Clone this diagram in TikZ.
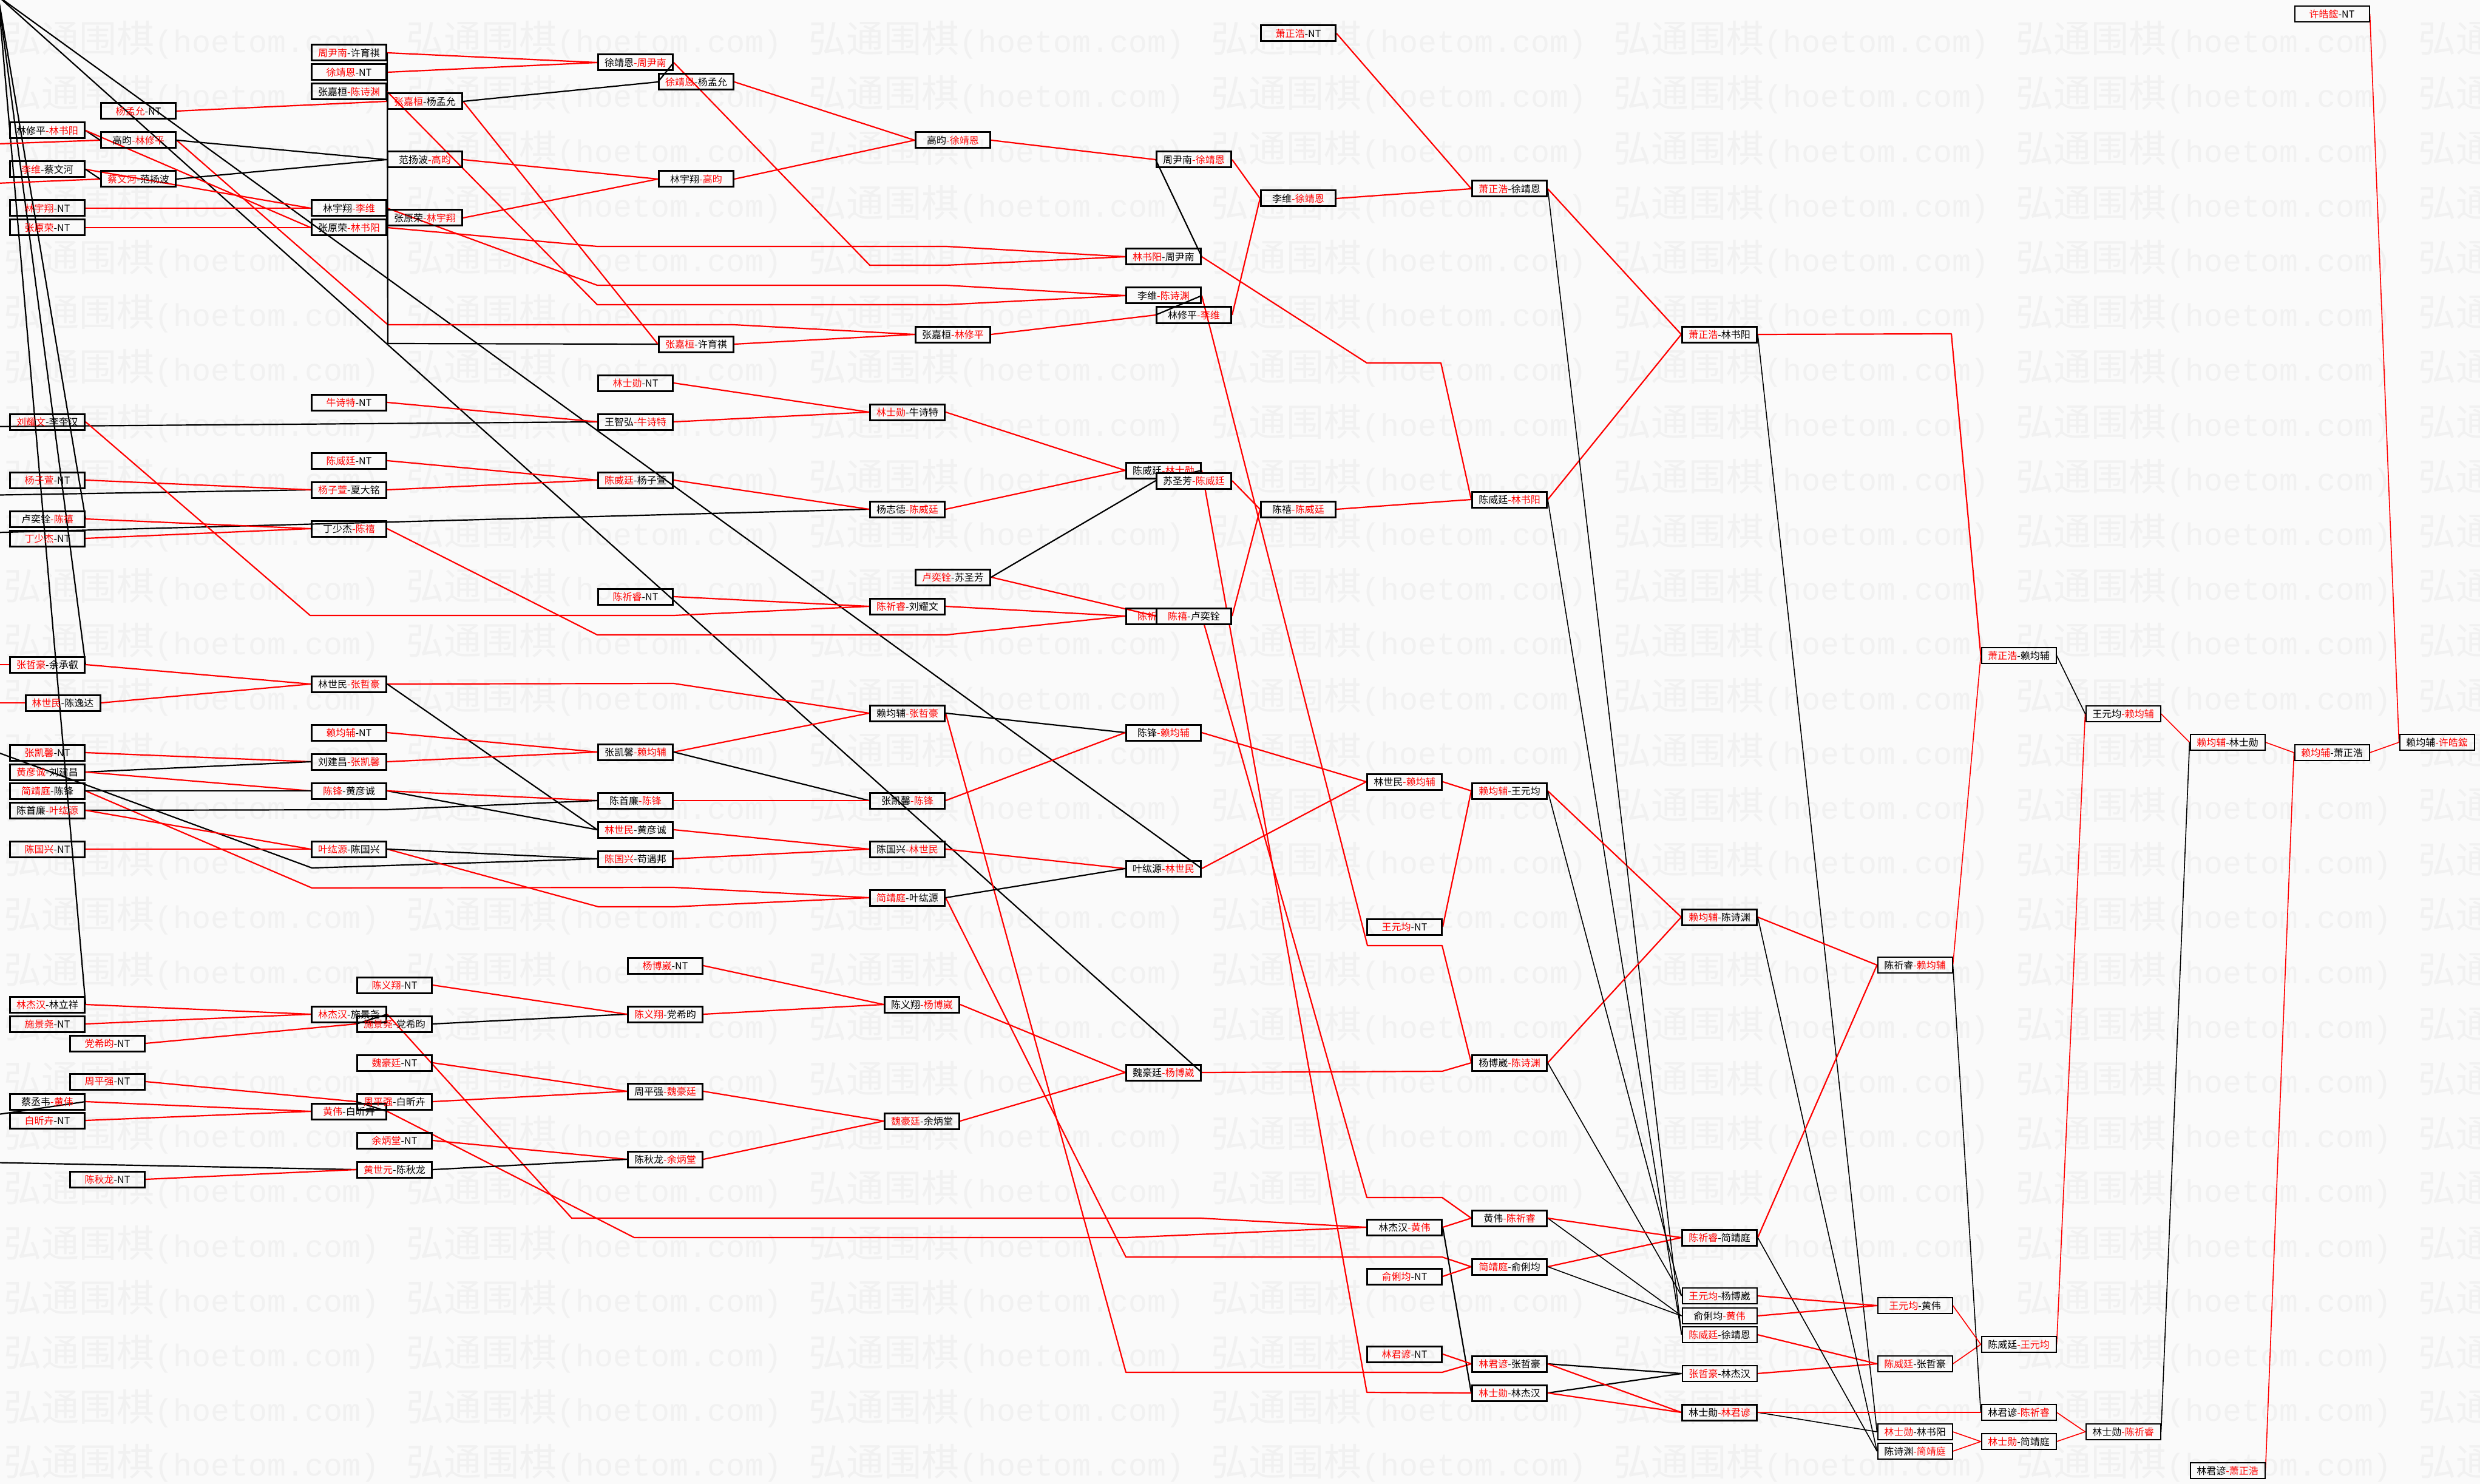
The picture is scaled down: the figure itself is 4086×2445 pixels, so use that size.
\documentclass[tikz,border=0pt]{standalone}
\usepackage{fontspec}
\newfontfamily\cjk{Noto Sans CJK SC}
\newfontfamily\wmmono{Liberation Mono}
\definecolor{bgc}{RGB}{250,250,250}
\definecolor{wmc}{RGB}{241,241,241}
\pgfdeclarelayer{bgl}
\pgfdeclarelayer{wml}
\pgfdeclarelayer{lnl}
\pgfsetlayers{bgl,wml,lnl,main}
\tikzset{
 bx/.style={draw=black, line width=1.5pt, minimum width=61.5pt, minimum height=13pt, inner sep=0pt, font=\cjk\fontsize{8}{8}\selectfont},
 tb/.style={bx, line width=1pt},
 fb/.style={bx, fill=bgc},
 lr/.style={draw=red, line width=1.1pt, line join=round},
 lk/.style={draw=black, line width=1.1pt, line join=round},
 tr/.style={draw=red, line width=0.8pt, line join=round},
 tk/.style={draw=black, line width=0.8pt, line join=round},
}
\newcommand\M[8][bx]{\node[#1] (#2) at (#3,#4) {\textcolor{#6}{#5}\textcolor{#8}{-#7}};}
\begin{document}
\begin{tikzpicture}[x=0.5pt,y=-0.5pt]
\clip (0,0) rectangle (4086,2445);
\begin{pgfonlayer}{bgl}
\fill[bgc] (0,0) rectangle (4086,2445);
\end{pgfonlayer}
\begin{pgfonlayer}{wml}
\foreach \r in {0,...,26} {
  \foreach \c in {0,...,6} {
    \node[anchor=west, inner sep=0pt, text=wmc] at ({6+663*\c},{66+90.2*\r}) {\cjk\fontsize{31}{31}\selectfont 弘通围棋\wmmono\fontsize{25.8}{25.8}\selectfont(hoetom.com)};
  }
}
\end{pgfonlayer}
% column A
\M{a1}{78}{215}{林修平}{black}{林书阳}{red}
\M{a2}{78}{279}{李维}{red}{蔡文河}{black}
\M{a3}{78}{343}{林宇翔}{red}{NT}{black}
\M{a4}{78}{375}{张原荣}{red}{NT}{black}
\M{a5}{78}{695}{刘耀文}{red}{李奎汉}{black}
\M{a6}{78}{791}{杨子萱}{red}{NT}{black}
\M{a7}{78}{855}{卢奕铨}{black}{陈禧}{red}
\M{a8}{78}{887}{丁少杰}{red}{NT}{black}
\M{a9}{78}{1095}{张哲豪}{red}{余承叡}{black}
\M{a10}{103.5}{1158}{林世民}{red}{陈逸达}{black}
\M{a11}{78}{1240}{张凯馨}{red}{NT}{black}
\M{a12}{78}{1272}{黄彦诚}{red}{刘建昌}{black}
\M{a13}{78}{1303}{简靖庭}{red}{陈锋}{black}
\M{a14}{78}{1335}{陈首廉}{black}{叶纮源}{red}
\M{a15}{78}{1399}{陈国兴}{red}{NT}{black}
\M{a16}{78}{1655}{林杰汉}{red}{林立祥}{black}
\M{a17}{78}{1687}{施景尧}{red}{NT}{black}
\M{a18}{78}{1815}{蔡丞韦}{black}{黄伟}{red}
\M{a19}{78}{1846}{白昕卉}{red}{NT}{black}
% column B
\M{b1}{228}{183}{杨孟允}{red}{NT}{black}
\M{b2}{228}{231}{高昀}{black}{林修平}{red}
\M{b3}{228}{295}{蔡文河}{red}{范扬波}{black}
\M{b4}{177}{1719}{党希昀}{red}{NT}{black}
\M{b5}{177}{1782}{周平强}{red}{NT}{black}
\M{b6}{177}{1943}{陈秋龙}{red}{NT}{black}
% column C
\M{c1}{575}{87}{周尹南}{red}{许育祺}{black}
\M{c2}{575}{119}{徐靖恩}{red}{NT}{black}
\M{c3}{575}{151}{张嘉桓}{black}{陈诗渊}{red}
\M{c4}{575}{343}{林宇翔}{black}{李维}{red}
\M{c5}{575}{375}{张原荣}{black}{林书阳}{red}
\M{c6}{575}{663}{牛诗特}{red}{NT}{black}
\M{c7}{575}{759}{陈威廷}{red}{NT}{black}
\M{c8}{575}{807}{杨子萱}{red}{夏大铭}{black}
\M{c9}{575}{871}{丁少杰}{black}{陈禧}{red}
\M{c10}{575}{1127}{林世民}{black}{张哲豪}{red}
\M{c11}{575}{1207}{赖均辅}{red}{NT}{black}
\M{c12}{575}{1255}{刘建昌}{black}{张凯馨}{red}
\M{c13}{575}{1303}{陈锋}{red}{黄彦诚}{black}
\M{c14}{575}{1399}{叶纮源}{red}{陈国兴}{black}
\M{c15}{575}{1671}{林杰汉}{red}{施景尧}{black}
\M{c16}{575}{1831}{黄伟}{red}{白昕卉}{black}
% column D
\M{d1}{700}{167}{张嘉桓}{red}{杨孟允}{black}
\M{d2}{700}{263}{范扬波}{black}{高昀}{red}
\M{d3}{700}{359}{张原荣}{black}{林宇翔}{red}
\M{d4}{650}{1623}{陈义翔}{red}{NT}{black}
\M{d5}{650}{1687}{施景尧}{red}{党希昀}{black}
\M{d6}{650}{1751}{魏豪廷}{red}{NT}{black}
\M{d7}{650}{1815}{周平强}{red}{白昕卉}{black}
\M{d8}{650}{1879}{余炳堂}{red}{NT}{black}
\M{d9}{650}{1927}{黄世元}{red}{陈秋龙}{black}
% column E
\M{e1}{1047}{103}{徐靖恩}{black}{周尹南}{red}
\M{e2}{1047}{631}{林士勋}{red}{NT}{black}
\M{e3}{1047}{695}{王智弘}{black}{牛诗特}{red}
\M{e4}{1047}{791}{陈威廷}{red}{杨子萱}{black}
\M{e5}{1047}{983}{陈祈睿}{red}{NT}{black}
\M{e6}{1047}{1239}{张凯馨}{black}{赖均辅}{red}
\M{e7}{1047}{1319}{陈首廉}{black}{陈锋}{red}
\M{e8}{1047}{1367}{林世民}{red}{黄彦诚}{black}
\M{e9}{1047}{1415}{陈国兴}{red}{苟遇邦}{black}
\M{e10}{1147}{135}{徐靖恩}{red}{杨孟允}{black}
\M{e11}{1147}{295}{林宇翔}{black}{高昀}{red}
\M{e12}{1147}{567}{张嘉桓}{red}{许育祺}{black}
\M{e13}{1096}{1591}{杨博崴}{red}{NT}{black}
\M{e14}{1096}{1671}{陈义翔}{red}{党希昀}{black}
\M{e15}{1096}{1798}{周平强}{black}{魏豪廷}{red}
\M{e16}{1096}{1910}{陈秋龙}{black}{余炳堂}{red}
% column F
\M{f1}{1570}{231}{高昀}{black}{徐靖恩}{red}
\M{f2}{1570}{551}{张嘉桓}{black}{林修平}{red}
\M{f3}{1570}{951}{卢奕铨}{red}{苏圣芳}{black}
\M{f4}{1495}{679}{林士勋}{red}{牛诗特}{black}
\M{f5}{1495}{839}{杨志德}{black}{陈威廷}{red}
\M{f6}{1495}{999}{陈祈睿}{red}{刘耀文}{black}
\M{f7}{1495}{1175}{赖均辅}{black}{张哲豪}{red}
\M{f8}{1495}{1319}{张凯馨}{black}{陈锋}{red}
\M{f9}{1495}{1399}{陈国兴}{black}{林世民}{red}
\M{f10}{1495}{1479}{简靖庭}{red}{叶纮源}{black}
\M{f11}{1519}{1655}{陈义翔}{black}{杨博崴}{red}
\M{f12}{1519}{1847}{魏豪廷}{red}{余炳堂}{black}
% column G
\M{g1}{1917}{423}{林书阳}{red}{周尹南}{black}
\M{g2}{1917}{487}{李维}{black}{陈诗渊}{red}
\M{g3}{1917}{775}{陈威廷}{black}{林士勋}{red}
\M{g4}{1917}{1015}{陈祈睿}{red}{陈禧}{black}
\M{g5}{1917}{1207}{陈锋}{black}{赖均辅}{red}
\M{g6}{1917}{1431}{叶纮源}{black}{林世民}{red}
\M{g7}{1917}{1767}{魏豪廷}{black}{杨博崴}{red}
\M{g8}{1967}{263}{周尹南}{black}{徐靖恩}{red}
\M{g9}{1967}{519}{林修平}{black}{李维}{red}
\M[fb]{g10}{1967}{792}{苏圣芳}{black}{陈威廷}{red}
\M[fb]{g11}{1967}{1015}{陈禧}{red}{卢奕铨}{black}
% column H
\M{h1}{2139}{55}{萧正浩}{red}{NT}{black}
\M{h2}{2139}{327}{李维}{black}{徐靖恩}{red}
\M{h3}{2139}{839}{陈禧}{black}{陈威廷}{red}
\M{h4}{2314}{1288}{林世民}{black}{赖均辅}{red}
\M{h5}{2314}{1527}{王元均}{red}{NT}{black}
\M{h6}{2314}{2022}{林杰汉}{black}{黄伟}{red}
\M{h7}{2314}{2103}{俞俐均}{red}{NT}{black}
\M{h8}{2314}{2231}{林君谚}{red}{NT}{black}
% column I
\M{i1}{2487}{311}{萧正浩}{red}{徐靖恩}{black}
\M{i2}{2487}{823}{陈威廷}{black}{林书阳}{red}
\M{i3}{2487}{1303}{赖均辅}{red}{王元均}{black}
\M{i4}{2487}{1751}{杨博崴}{black}{陈诗渊}{red}
\M{i5}{2487}{2007}{黄伟}{black}{陈祈睿}{red}
\M{i6}{2487}{2087}{简靖庭}{red}{俞俐均}{black}
\M{i7}{2487}{2247}{林君谚}{red}{张哲豪}{black}
\M{i8}{2487}{2295}{林士勋}{red}{林杰汉}{black}
% column J
\M{j1}{2833}{551}{萧正浩}{red}{林书阳}{black}
\M{j2}{2833}{1511}{赖均辅}{red}{陈诗渊}{black}
\M{j3}{2833}{2039}{陈祈睿}{red}{简靖庭}{black}
\M[tb]{j4}{2833}{2135}{王元均}{red}{杨博崴}{black}
\M[tb]{j5}{2833}{2168}{俞俐均}{black}{黄伟}{red}
\M[tb]{j6}{2833}{2199}{陈威廷}{red}{徐靖恩}{black}
\M[tb]{j7}{2833}{2263}{张哲豪}{red}{林杰汉}{black}
\M{j8}{2833}{2327}{林士勋}{black}{林君谚}{red}
% column K
\M[tb]{k1}{3155}{1590}{陈祈睿}{black}{赖均辅}{red}
\M[tb]{k2}{3155}{2151}{王元均}{red}{黄伟}{black}
\M[tb]{k3}{3155}{2247}{陈威廷}{red}{张哲豪}{black}
\M[tb]{k4}{3155}{2359}{林士勋}{red}{林书阳}{black}
\M[tb]{k5}{3155}{2391}{陈诗渊}{black}{简靖庭}{red}
% column L
\M[tb]{l1}{3326}{1080}{萧正浩}{red}{赖均辅}{black}
\M[tb]{l2}{3326}{2215}{陈威廷}{black}{王元均}{red}
\M[tb]{l3}{3326}{2327}{林君谚}{black}{陈祈睿}{red}
\M[tb]{l4}{3326}{2375}{林士勋}{red}{简靖庭}{black}
% columns M..P
\M[tb]{m1}{3498}{1176}{王元均}{black}{赖均辅}{red}
\M[tb]{m2}{3498}{2359}{林士勋}{black}{陈祈睿}{red}
\M[tb]{n1}{3670}{1223}{赖均辅}{red}{林士勋}{black}
\M[tb]{n2}{3670}{2423}{林君谚}{black}{萧正浩}{red}
\M[tb]{o1}{3842}{23}{许皓鋐}{red}{NT}{black}
\M[tb]{o2}{3842}{1240}{赖均辅}{red}{萧正浩}{black}
\M[tb]{p1}{4015}{1223}{赖均辅}{black}{许皓鋐}{red}

\begin{pgfonlayer}{lnl}
\coordinate (tl) at (-3,-6);
% corner lines
\draw[lk] (tl) -- (a7.east);
\draw[lk] (tl) -- (a9.east);
\draw[lk] (tl) -- (a16.east);
\draw[lk] (tl) -- (g7.east);
\draw[lk] (tl) -- (g6.east);
% off-canvas
\draw[lr] (-30,238) -- (b2.west);
\draw[lr] (-30,303) -- (b3.west);
\draw[lr] (-30,1095) -- (a9.west);
\draw[lr] (-30,1158) -- (a10.west);
\draw[lk] (-30,703) -- (e3.west);
\draw[lk] (-30,816) -- (c8.west);
\draw[lk] (-30,878) -- (f5.west);
\draw[lk] (-30,1230) -- (514,1430) -- (e9.west);
\draw[lk] (a18.east) -- (-30,1840);
\draw[lk] (-30,1915) -- (d9.west);
% edges
\draw[lk] (a1.east) -- (b2.west);
\draw[lr] (b2.east) -- (639,535) -- (1209,535) -- (f2.west);
\draw[lr] (f2.east) -- (g9.west);
\draw[lr] (a1.east) -- (c5.west);
\draw[lr] (c5.east) -- (984,406) -- (1559,406) -- (g1.west);
\draw[lr] (g1.east) -- (2252,598) -- (2374,598) -- (i2.west);
\draw[lr] (i2.east) -- (j1.west);
\draw[tk] (j1.east) -- (k4.west);
\draw[lr] (a2.east) -- (c4.west);
\draw[lr] (c4.east) -- (984,470) -- (1559,470) -- (g2.west);
\draw[lk] (g2.east) -- (g9.west);
\draw[lr] (g9.east) -- (h2.west);
\draw[lk] (a2.east) -- (b3.west);
\draw[lr] (a3.east) -- (c4.west);
\draw[lk] (c4.east) -- (d3.west);
\draw[lr] (d3.east) -- (e11.west);
\draw[lr] (a4.east) -- (c5.west);
\draw[lk] (c5.east) -- (d3.west);
\draw[lr] (a5.east) -- (511,1014) -- (1110,1014) -- (f6.west);
\draw[lr] (a6.east) -- (c8.west);
\draw[lr] (c8.east) -- (e4.west);
\draw[lr] (c7.east) -- (e4.west);
\draw[lr] (e4.east) -- (f5.west);
\draw[lr] (f5.east) -- (g3.west);
\draw[lk] (g3.east) -- (g10.west);
\draw[lr] (g10.east) -- (h3.west);
\draw[lr] (h3.east) -- (i2.west);
\draw[tk] (i2.east) -- (j6.west);
\draw[lr] (j6.east) -- (k3.west);
\draw[tr] (k3.east) -- (l2.west);
\draw[lr] (a7.east) -- (c9.west);
\draw[lr] (c9.east) -- (984,1046) -- (1559,1046) -- (g4.west);
\draw[lr] (g11.east) -- (h3.west);
\draw[lr] (f3.east) -- (g11.west);
\draw[lk] (f3.east) -- (g10.west);
\draw[lr] (a8.east) -- (c9.west);
\draw[lr] (a9.east) -- (c10.west);
\draw[lr] (c10.east) -- (1110,1126) -- (f7.west);
\draw[lr] (f7.east) -- (1855,2261) -- (2376,2261) -- (i7.west);
\draw[lk] (i7.east) -- (j7.west);
\draw[lr] (j7.east) -- (k3.west);
\draw[lr] (a10.east) -- (c10.west);
\draw[lk] (c10.east) -- (e8.west);
\draw[lr] (e8.east) -- (f9.west);
\draw[lr] (f9.east) -- (g6.west);
\draw[lr] (g6.east) -- (h4.west);
\draw[lr] (c11.east) -- (e6.west);
\draw[lr] (e6.east) -- (f7.west);
\draw[lk] (f7.east) -- (g5.west);
\draw[lr] (g5.east) -- (h4.west);
\draw[lr] (h4.east) -- (i3.west);
\draw[lr] (i3.east) -- (j2.west);
\draw[lr] (j2.east) -- (k1.west);
\draw[tr] (k1.east) -- (l1.west);
\draw[tk] (l1.east) -- (m1.west);
\draw[tr] (m1.east) -- (n1.west);
\draw[tr] (n1.east) -- (o2.west);
\draw[tr] (o2.east) -- (p1.west);
\draw[lr] (a11.east) -- (c12.west);
\draw[lr] (c12.east) -- (e6.west);
\draw[lk] (e6.east) -- (f8.west);
\draw[lk] (a12.east) -- (c12.west);
\draw[lr] (a12.east) -- (c13.west);
\draw[lk] (c13.east) -- (e8.west);
\draw[lr] (a13.east) -- (514,1463) -- (1110,1462) -- (f10.west);
\draw[lr] (f10.east) -- (1855,2071) -- (2376,2071) -- (i6.west);
\draw[lr] (i6.east) -- (j3.west);
\draw[tk] (j3.east) -- (k5.west);
\draw[tr] (k5.east) -- (l4.west);
\draw[lk] (a13.east) -- (c13.west);
\draw[lr] (c13.east) -- (e7.west);
\draw[lr] (e7.east) -- (f8.west);
\draw[lr] (f8.east) -- (g5.west);
\draw[lk] (a14.east) -- (637,1334) -- (e7.west);
\draw[lr] (a14.east) -- (c14.west);
\draw[lr] (c14.east) -- (986,1494) -- (1110,1494) -- (f10.west);
\draw[lk] (f10.east) -- (g6.west);
\draw[lr] (a15.east) -- (c14.west);
\draw[lk] (c14.east) -- (e9.west);
\draw[lr] (e9.east) -- (f9.west);
\draw[lr] (a16.east) -- (c15.west);
\draw[lr] (c15.east) -- (942,2007) -- (1978,2007) -- (h6.west);
\draw[lk] (h6.east) -- (i8.west);
\draw[lk] (i8.east) -- (j7.west);
\draw[lr] (a17.east) -- (c15.west);
\draw[lk] (c15.east) -- (d5.west);
\draw[lr] (b4.east) -- (d5.west);
\draw[lk] (d5.east) -- (e14.west);
\draw[lr] (d4.east) -- (e14.west);
\draw[lr] (e14.east) -- (f11.west);
\draw[lr] (e13.east) -- (f11.west);
\draw[lr] (f11.east) -- (g7.west);
\draw[lr] (g7.east) -- (2376,1765) -- (i4.west);
\draw[tk] (i4.east) -- (j4.west);
\draw[lr] (d6.east) -- (e15.west);
\draw[lr] (e15.east) -- (f12.west);
\draw[lr] (f12.east) -- (g7.west);
\draw[lr] (b5.east) -- (d7.west);
\draw[lr] (d7.east) -- (e15.west);
\draw[lr] (a19.east) -- (c16.west);
\draw[lk] (c16.east) -- (d7.west);
\draw[lr] (a18.east) -- (c16.west);
\draw[lr] (c16.east) -- (1045,2039) -- (1855,2039) -- (h6.west);
\draw[lr] (h6.east) -- (i5.west);
\draw[tk] (i5.east) -- (j5.west);
\draw[lr] (j5.east) -- (k2.west);
\draw[lr] (d8.east) -- (e16.west);
\draw[lr] (e16.east) -- (f12.west);
\draw[lr] (b6.east) -- (d9.west);
\draw[lk] (d9.east) -- (e16.west);
\draw[lr] (c2.east) -- (e1.west);
\draw[lk] (e1.east) -- (e10.west);
\draw[lr] (e10.east) -- (f1.west);
\draw[lr] (f1.east) -- (g8.west);
\draw[lr] (g8.east) -- (h2.west);
\draw[lr] (h2.east) -- (i1.west);
\draw[tk] (i1.east) -- (j6.west);
\draw[lr] (c1.east) -- (e1.west);
\draw[lr] (e1.east) -- (1433,437) -- (1559,437) -- (g1.west);
\draw[lk] (g1.east) -- (g8.west);
\draw[lk] (c1.east) -- (639,566) -- (e12.west);
\draw[lk] (c3.east) -- (d1.west);
\draw[lr] (d1.east) -- (e12.west);
\draw[lr] (e12.east) -- (f2.west);
\draw[lr] (c3.east) -- (984,502) -- (1559,502) -- (g2.west);
\draw[lr] (g2.east) -- (2253,1558) -- (2376,1558) -- (i4.west);
\draw[lr] (i4.east) -- (j2.west);
\draw[tk] (j2.east) -- (k5.west);
\draw[lr] (b1.east) -- (d1.west);
\draw[lk] (d1.east) -- (e10.west);
\draw[lk] (b2.east) -- (d2.west);
\draw[lr] (d2.east) -- (e11.west);
\draw[lr] (e11.east) -- (f1.west);
\draw[lk] (b3.east) -- (d2.west);
\draw[lr] (c6.east) -- (e3.west);
\draw[lr] (e3.east) -- (f4.west);
\draw[lr] (e2.east) -- (f4.west);
\draw[lr] (f4.east) -- (g3.west);
\draw[lr] (g3.east) -- (2252,2294) -- (i8.west);
\draw[lr] (i8.east) -- (j8.west);
\draw[tk] (j8.east) -- (k4.west);
\draw[tr] (k4.east) -- (l4.west);
\draw[tr] (l4.east) -- (m2.west);
\draw[tk] (m2.east) -- (n1.west);
\draw[lr] (e5.east) -- (f6.west);
\draw[lr] (f6.east) -- (g4.west);
\draw[lr] (g4.east) -- (2252,1973) -- (2376,1973) -- (i5.west);
\draw[lr] (i5.east) -- (j3.west);
\draw[lr] (j3.east) -- (k1.west);
\draw[tk] (k1.east) -- (l3.west);
\draw[tr] (l3.east) -- (m2.west);
\draw[lr] (h1.east) -- (i1.west);
\draw[lr] (i1.east) -- (j1.west);
\draw[lr] (j1.east) -- (3215,550) -- (l1.west);
\draw[tr] (n2.east) -- (o2.west);
\draw[lr] (h5.east) -- (i3.west);
\draw[tk] (i3.east) -- (j4.west);
\draw[lr] (j4.east) -- (k2.west);
\draw[tr] (k2.east) -- (l2.west);
\draw[tr] (l2.east) -- (m1.west);
\draw[lr] (h7.east) -- (i6.west);
\draw[tk] (i6.east) -- (j5.west);
\draw[lr] (h8.east) -- (i7.west);
\draw[lr] (i7.east) -- (j8.west);
\draw[lr] (j8.east) -- (l3.west);
\draw[tr] (o1.east) -- (p1.west);
\end{pgfonlayer}
\end{tikzpicture}
\end{document}
